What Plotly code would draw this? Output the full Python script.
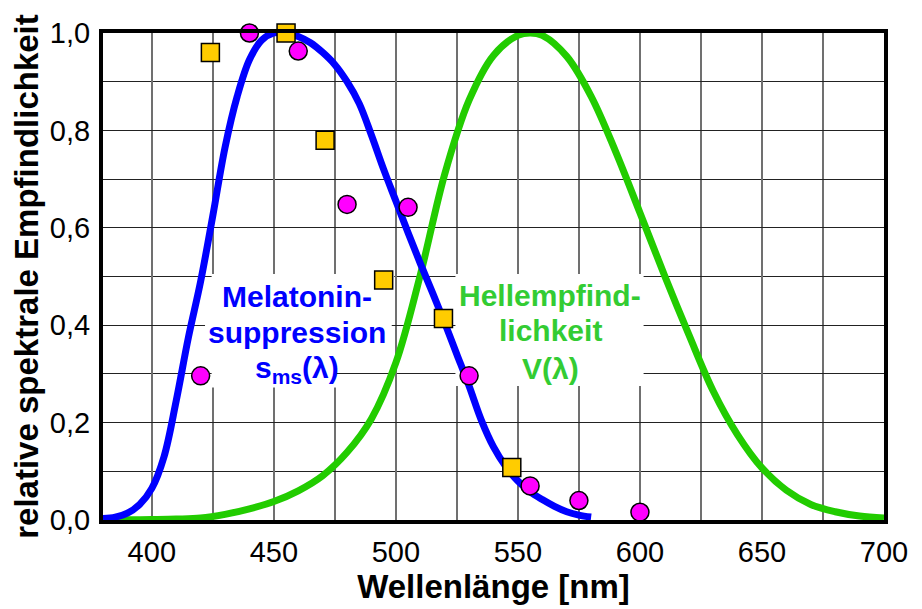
import plotly.graph_objects as go

# ---- data ----
sms_wavelength = [380, 385, 390, 395, 400, 405, 410, 415, 420, 425, 430, 435, 440, 445,
                  450, 455, 460, 465, 470, 475, 480, 485, 490, 495, 500, 505, 510, 515,
                  520, 525, 530, 535, 540, 545, 550, 555, 560, 565, 570, 575, 580]
sms_values = [0.003, 0.006, 0.014, 0.032, 0.065, 0.13, 0.245, 0.375, 0.49, 0.625, 0.765,
              0.87, 0.945, 0.985, 1.0, 1.0, 0.993, 0.98, 0.96, 0.935, 0.9, 0.855, 0.79,
              0.72, 0.655, 0.59, 0.527, 0.467, 0.405, 0.34, 0.275, 0.205, 0.15, 0.11,
              0.08, 0.058, 0.042, 0.028, 0.017, 0.01, 0.006]

v_wavelength = [380, 390, 400, 410, 420, 430, 440, 450, 460, 470, 480, 490, 500, 510,
                520, 530, 540, 550, 555, 560, 570, 580, 590, 600, 610, 620, 630, 640,
                650, 660, 670, 680, 690, 700]
v_values = [0.0001, 0.0003, 0.001, 0.002, 0.004, 0.0116, 0.023, 0.038, 0.06, 0.091,
            0.139, 0.208, 0.323, 0.503, 0.71, 0.862, 0.954, 0.995, 1.0, 0.995, 0.952,
            0.87, 0.757, 0.631, 0.503, 0.381, 0.265, 0.175, 0.107, 0.061, 0.032,
            0.017, 0.0082, 0.0041]

square_x = [424, 455, 471, 495, 519.5, 547.5]
square_y = [0.96, 1.0, 0.78, 0.493, 0.414, 0.108]

circle_x = [420, 440, 460, 480, 505, 530, 555, 575, 600]
circle_y = [0.296, 1.0, 0.963, 0.648, 0.642, 0.296, 0.07, 0.04, 0.016]

x_ticks = [400, 450, 500, 550, 600, 650, 700]
y_ticks = [0.0, 0.2, 0.4, 0.6, 0.8, 1.0]

FONT = "Liberation Sans, Arial, sans-serif"
BLUE = "#0000FF"
GREEN_LINE = "#22CC00"
GREEN_TEXT = "#33CC33"

fig = go.Figure()

fig.add_trace(go.Scatter(x=v_wavelength, y=v_values, mode="lines",
                         line=dict(color=GREEN_LINE, width=7, shape="spline"),
                         showlegend=False, hoverinfo="skip"))
fig.add_trace(go.Scatter(x=sms_wavelength, y=sms_values, mode="lines",
                         line=dict(color=BLUE, width=7, shape="spline"),
                         showlegend=False, hoverinfo="skip"))
fig.add_trace(go.Scatter(x=square_x, y=square_y, mode="markers",
                         marker=dict(symbol="square", size=18, color="#FFCC00",
                                     line=dict(color="black", width=1.5)),
                         cliponaxis=False, showlegend=False))
fig.add_trace(go.Scatter(x=circle_x, y=circle_y, mode="markers",
                         marker=dict(symbol="circle", size=18, color="#FF00FF",
                                     line=dict(color="black", width=1.5)),
                         cliponaxis=False, showlegend=False))

# white boxes behind the labels (hide grid lines, stay below curves)
boxes = [
    (424.5, 499.3, 0.423, 0.505),
    (421.8, 498.3, 0.347, 0.425),
    (424.5, 475.6, 0.272, 0.349),
    (524.4, 601.5, 0.275, 0.505),
]
for x0, x1, y0, y1 in boxes:
    fig.add_shape(type="rect", x0=x0, x1=x1, y0=y0, y1=y1, xref="x", yref="y",
                  fillcolor="white", line=dict(width=0), layer="between")

blue_lines = [("Melatonin-", 0.4597), ("suppression", 0.3844),
              ("s<sub>ms</sub>(λ)", 0.3093)]
green_lines = [("Hellempfind-", 0.4611), ("lichkeit", 0.3893), ("V(λ)", 0.3113)]
for txt, yy in blue_lines:
    fig.add_annotation(x=459.5, y=yy, text=txt, showarrow=False, xanchor="center",
                       yanchor="middle",
                       font=dict(family=FONT, size=30, color=BLUE, weight="bold"))
for txt, yy in green_lines:
    fig.add_annotation(x=563.2, y=yy, text=txt, showarrow=False, xanchor="center",
                       yanchor="middle",
                       font=dict(family=FONT, size=30, color=GREEN_TEXT, weight="bold"))

fig.update_xaxes(range=[380, 700], tickvals=x_ticks, ticks="", showline=True,
                 linecolor="black", linewidth=4, mirror=True, zeroline=False,
                 automargin=False,
                 showgrid=True, gridcolor="#707070", gridwidth=1.5,
                 minor=dict(dtick=25, tick0=400, showgrid=True, gridcolor="#707070",
                            gridwidth=1.5),
                 tickfont=dict(family=FONT, size=29, color="black"),
                 ticklabelstandoff=3,
                 title=dict(text="Wellenlänge [nm]", standoff=6,
                            font=dict(family=FONT, size=33, color="black", weight="bold")))
fig.update_yaxes(range=[0, 1], tickvals=y_ticks, tickformat=".1f", ticks="",
                 showline=True, linecolor="black", linewidth=4, mirror=True,
                 zeroline=False, automargin=False,
                 showgrid=True, gridcolor="#222222", gridwidth=1.3,
                 minor=dict(dtick=0.1, tick0=0, showgrid=True, gridcolor="#222222",
                            gridwidth=1.3),
                 tickfont=dict(family=FONT, size=29, color="black"),
                 ticklabelstandoff=3,
                 title=dict(text="relative spektrale Empfindlichkeit", standoff=2,
                            font=dict(family=FONT, size=33, color="black", weight="bold")))

# the page body adds an 8 px margin, so the figure is 8 px smaller and margins shifted
fig.update_layout(width=914, height=601, margin=dict(l=95, r=38, t=25, b=89),
                  paper_bgcolor="white", plot_bgcolor="white", separators=", ",
                  showlegend=False)

fig.write_html("out.html")
